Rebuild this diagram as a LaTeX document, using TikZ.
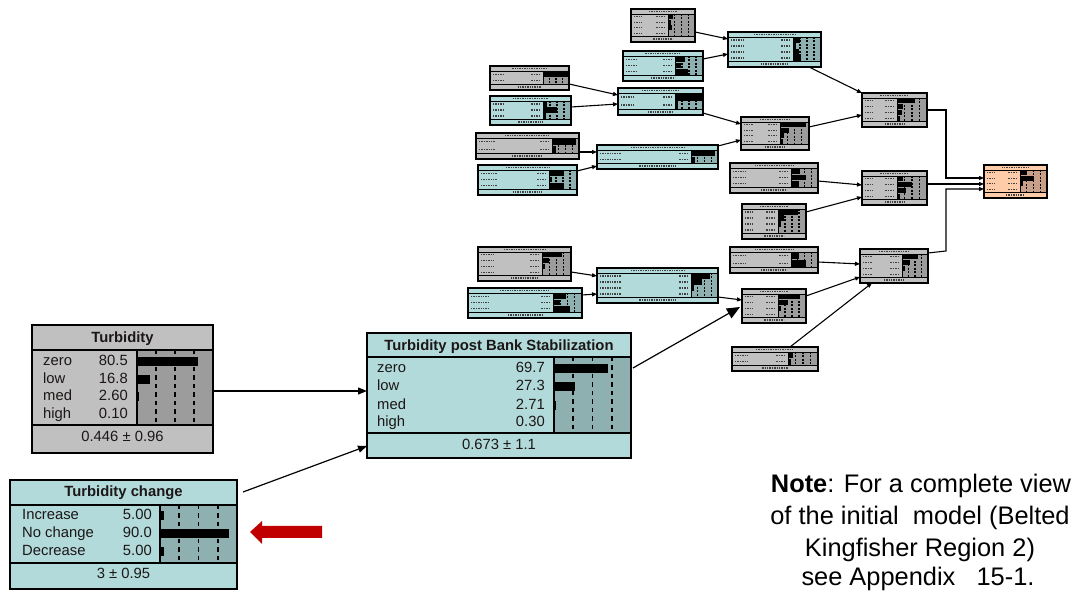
\documentclass[tikz,border=0pt]{standalone}
\usepackage{fontspec}
\setmainfont{Liberation Sans}
\usetikzlibrary{arrows.meta}

% node colour schemes: body fill and belief-bar panel
\definecolor{grfill}{RGB}{192,192,192}
\definecolor{grpanel}{RGB}{156,156,156}
\definecolor{cyfill}{RGB}{178,218,218}
\definecolor{cypanel}{RGB}{142,176,176}
\definecolor{safill}{RGB}{255,204,170}
\definecolor{sapanel}{RGB}{200,160,138}
\definecolor{alertred}{RGB}{192,0,0}
\definecolor{inktext}{RGB}{28,22,22}

\newcommand{\bnfont}{\fontsize{14.8}{17}\selectfont}
\newcommand{\notefont}{\fontsize{25.4}{30}\selectfont}

\tikzset{
  bnnode/.style={rectangle, inner sep=0pt, outer sep=0pt, draw=black, line width=1.5pt},
  bnborder/.style={draw=black, line width=1.5pt},
  bnsmallborder/.style={draw=black, line width=1.3pt},
  bnsep/.style={line width=1.3pt},
  bnsmallsep/.style={line width=0.9pt},
  bntick/.style={line width=1.7pt, dash pattern=on 4.5pt off 4pt},
  bnminitick/.style={line width=1.1pt, dash pattern=on 2pt off 1.5pt},
  bnpseudo/.style={line width=1.2pt, dash pattern=on 1.4pt off 1pt, black!75},
  bnlink/.style={line width=1.1pt, -{Triangle[length=5pt,width=4pt]}},
  bnbiglink/.style={line width=1.2pt, -{Triangle[length=9pt,width=7pt]}},
  bntitle/.style={anchor=base, inner sep=0pt, font=\bnfont\bfseries, text=inktext},
  bnlab/.style={anchor=base west, inner sep=0pt, font=\bnfont, text=inktext},
  bnnum/.style={anchor=base east, inner sep=0pt, font=\bnfont, text=inktext},
  bnfoot/.style={anchor=base, inner sep=0pt, font=\bnfont, text=inktext},
  bnnote/.style={anchor=base, inner sep=0pt, font=\notefont, text=black},
}

% miniature network node: name, x1, y1, x2, y2, scheme, panel x, rows, bar fractions
\newcommand{\minibn}[9]{%
  \pgfmathsetmacro{\mbT}{#3+5}%
  \pgfmathsetmacro{\mbB}{#5-6}%
  \pgfmathsetmacro{\mbH}{(\mbB-\mbT)/#8}%
  \pgfmathsetmacro{\mbW}{#4-#7}%
  \node[bnnode, fill=#6fill, minimum width={(#4-#2)*1pt}, minimum height={(#5-#3)*1pt}] (#1) at ({(#2+#4)/2},{(#3+#5)/2}) {};
  \fill[#6panel] (#7,\mbT) rectangle (#4,\mbB);
  \foreach \v [count=\i] in {#9} {
    \fill[black] (#7,{\mbT+(\i-1)*\mbH+0.4}) rectangle ({#7+\v*\mbW},{\mbT+\i*\mbH-0.4});
  }
  \foreach \f in {0.25,0.5,0.75} \draw[bnminitick] ({#7+\f*\mbW},\mbT) -- ({#7+\f*\mbW},\mbB);
  \foreach \i in {1,...,#8} {
    \draw[bnpseudo] ({#2+3},{\mbT+(\i-0.5)*\mbH}) -- ++({0.22*(#7-#2)},0);
    \draw[bnpseudo] ({#7-3},{\mbT+(\i-0.5)*\mbH}) -- ++(-9,0);
  }
  \draw[bnpseudo] ({(#2+#4)/2-0.22*(#4-#2)},{#3+2.6}) -- ++({0.44*(#4-#2)},0);
  \draw[bnpseudo] ({(#2+#4)/2-0.15*(#4-#2)},{#5-3}) -- ++({0.3*(#4-#2)},0);
  \draw[bnsmallsep] (#2,\mbT) -- (#4,\mbT) (#2,\mbB) -- (#4,\mbB) (#7,\mbT) -- (#7,\mbB);
  \draw[bnsmallborder] (#1.north west) rectangle (#1.south east);
}

% full-size node frame: name, x1, y1, x2, y2, scheme, panel x, title bottom, footer top
\newcommand{\bigframe}[9]{%
  \node[bnnode, fill=#6fill, minimum width={(#4-#2)*1pt}, minimum height={(#5-#3)*1pt}] (#1) at ({(#2+#4)/2},{(#3+#5)/2}) {};
  \fill[#6panel] (#7,#8) rectangle (#4,#9);
  \draw[bnsep] (#2,#8) -- (#4,#8) (#2,#9) -- (#4,#9) (#7,#8) -- (#7,#9);
  \foreach \f in {0.25,0.5,0.75} \draw[bntick] ({#7+\f*(#4-#7)},#8) -- ({#7+\f*(#4-#7)},#9);
}

\begin{document}
\begin{tikzpicture}[x=1pt, y=-1pt]
\fill[white] (0,0) rectangle (1080,593);
\useasboundingbox (0,0) rectangle (1080,593);

% ---- upper network ----
\minibn{A1}{631}{9}{695}{42}{gr}{668}{4}{0.2,0.1,0.15,0.05}
\minibn{A2}{623}{51}{703}{81}{cy}{675}{3}{0.35,0.2,0.45}
\minibn{G}{728}{32}{821}{67}{cy}{793}{4}{0.25,0.1,0.2,0.3}
\minibn{B1}{490}{66}{569}{90}{gr}{543}{2}{1.0,0.05}
\minibn{B2}{490}{96}{571}{125}{cy}{543}{3}{0.15,0.5,0.1}
\minibn{C}{618}{88}{703}{115}{cy}{675}{2}{0.95,0.1}
\minibn{D1}{476}{133}{579}{159}{gr}{552}{2}{0.9,0.15}
\minibn{D2}{478}{165}{577}{195}{cy}{549}{3}{0.55,0.1,0.55}
\minibn{E}{597}{145}{718}{169}{cy}{691}{2}{0.9,0.15}
\minibn{F}{741}{117}{809}{150}{gr}{780}{4}{0.9,0.3,0.15,0.1}
\minibn{H1}{862}{93}{927}{127}{gr}{897}{4}{0.6,0.2,0.15,0.1}
\minibn{I1}{730}{163}{818}{193}{gr}{791}{3}{0.35,0.55,0.3}
\minibn{H2}{862}{171}{927}{205}{gr}{897}{4}{0.2,0.5,0.3,0.1}
\minibn{I2}{742}{204}{806}{239}{gr}{778}{4}{0.7,0.2,0.1,0.05}
\minibn{J}{730}{247}{818}{273}{gr}{791}{2}{0.3,0.55}
\minibn{H3}{860}{249}{928}{283}{gr}{902}{4}{0.6,0.3,0.1,0.05}
\minibn{K}{742}{289}{806}{323}{gr}{778}{4}{0.8,0.35,0.1,0.05}
\minibn{L}{732}{347}{818}{371}{gr}{788}{2}{0.15,0.1}
\minibn{O}{984}{165}{1047}{198}{sa}{1020}{4}{0.25,0.5,0.1,0.05}
\minibn{M1}{478}{247}{571}{281}{gr}{542}{4}{0.7,0.25,0.1,0.05}
\minibn{M2}{468}{288}{582}{318}{cy}{553}{3}{0.45,0.25,0.6}
\minibn{N}{597}{268}{718}{303}{cy}{691}{4}{0.7,0.4,0.1,0.05}

% ---- Turbidity ----
\bigframe{T}{32}{325}{213}{453}{gr}{137}{350}{425}
\fill[black] (137,357.5) rectangle ({137+0.805*76},366.5);
\fill[black] (137,375.5) rectangle ({137+0.168*76},384.5);
\fill[black] (137,392.5) rectangle ({137+0.026*76},401.5);
\node[bntitle] (T-title) at (122.5,343) {Turbidity};
\node[bnlab] (T-s1) at (43,366) {zero};
\node[bnlab] (T-s2) at (43,384) {low};
\node[bnlab] (T-s3) at (43,401) {med};
\node[bnlab] (T-s4) at (43,419) {high};
\node[bnnum] (T-v1) at (128,366) {80.5};
\node[bnnum] (T-v2) at (128,384) {16.8};
\node[bnnum] (T-v3) at (128,401) {2.60};
\node[bnnum] (T-v4) at (128,419) {0.10};
\node[bnfoot] (T-mean) at (122.5,442) {0.446 ± 0.96};
\draw[bnborder] (T.north west) rectangle (T.south east);

% ---- Turbidity change ----
\bigframe{TC}{10}{480}{237}{589}{cy}{160}{505}{563}
\fill[black] (160,511.5) rectangle ({160+0.05*77},520.5);
\fill[black] (160,529.5) rectangle ({160+0.90*77},538.5);
\fill[black] (160,547.5) rectangle ({160+0.05*77},556.5);
\node[bntitle] (TC-title) at (123.5,497) {Turbidity change};
\node[bnlab] (TC-s1) at (22,520) {Increase};
\node[bnlab] (TC-s2) at (22,538) {No change};
\node[bnlab] (TC-s3) at (22,556) {Decrease};
\node[bnnum] (TC-v1) at (152,520) {5.00};
\node[bnnum] (TC-v2) at (152,538) {90.0};
\node[bnnum] (TC-v3) at (152,556) {5.00};
\node[bnfoot] (TC-mean) at (123.5,579) {3 ± 0.95};
\draw[bnborder] (TC.north west) rectangle (TC.south east);

% ---- Turbidity post Bank Stabilization ----
\bigframe{P}{367}{333}{631}{458}{cy}{554}{357}{433}
\fill[black] (554,364.5) rectangle ({554+0.697*77},373.5);
\fill[black] (554,382.5) rectangle ({554+0.273*77},391.5);
\fill[black] (554,401.5) rectangle ({554+0.0271*77},410.5);
\node[bntitle] (P-title) at (499,351) {Turbidity post Bank Stabilization};
\node[bnlab] (P-s1) at (377,373) {zero};
\node[bnlab] (P-s2) at (377,391) {low};
\node[bnlab] (P-s3) at (377,410) {med};
\node[bnlab] (P-s4) at (377,427) {high};
\node[bnnum] (P-v1) at (545,373) {69.7};
\node[bnnum] (P-v2) at (545,391) {27.3};
\node[bnnum] (P-v3) at (545,410) {2.71};
\node[bnnum] (P-v4) at (545,427) {0.30};
\node[bnfoot] (P-mean) at (499,450) {0.673 ± 1.1};
\draw[bnborder] (P.north west) rectangle (P.south east);

% ---- links of the upper network ----
\draw[bnlink] ([yshift=-6.5pt]A1.east) -- ([yshift=10.5pt]G.west);
\draw[bnlink] ([yshift=7pt]A2.east) -- ([yshift=-4.5pt]G.west);
\draw[bnlink] ([yshift=-6pt]B1.east) -- ([yshift=6.5pt]C.west);
\draw[bnlink] ([yshift=3.5pt]B2.east) -- ([yshift=-2.5pt]C.west);
\draw[bnlink] ([yshift=-11.5pt]C.east) -- ([yshift=9.5pt]F.west);
\draw[bnlink] ([yshift=-6pt]D1.east) -- ([yshift=5pt]E.west);
\draw[bnlink] ([yshift=9pt]D2.east) -- ([yshift=-9pt]E.west);
\draw[bnlink] ([yshift=11pt]E.east) -- ([yshift=-6.5pt]F.west);
\draw[bnlink] ([xshift=34.5pt]G.south) -- (H1.north west);
\draw[bnlink] ([yshift=6.5pt]F.east) -- ([yshift=-5pt]H1.west);
\draw[bnlink] ([yshift=-3pt]I1.east) -- ([yshift=3pt]H2.west);
\draw[bnlink] ([yshift=9.5pt]I2.east) -- ([yshift=-9pt]H2.west);
\draw[bnlink] ([yshift=-2pt]J.east) -- ([yshift=2pt]H3.west);
\draw[bnlink] ([yshift=10pt]K.east) -- ([yshift=-11pt]H3.west);
\draw[bnlink] ([xshift=15pt]L.north) -- ([xshift=-22pt]H3.south);
\draw[bnlink] ([yshift=-11.5pt]N.east) -- ([yshift=6pt]K.west);
\draw[bnlink] ([yshift=-8pt]M1.east) -- ([yshift=9.5pt]N.west);
\draw[bnlink] ([yshift=8pt]M2.east) -- ([yshift=-8.5pt]N.west);
\draw[bnlink] (H1.east) -- ++(19,0) |- ([yshift=3.5pt]O.west);
\draw[bnlink] ([yshift=4pt]H2.east) -- ([yshift=-2.5pt]O.west);
\draw[bnlink] ([yshift=13pt]H3.east) -- ++(18,-2) |- ([yshift=-7.5pt]O.west);

% ---- links of the turbidity nodes ----
\draw[bnbiglink] ([yshift=-2pt]T.east) -- ([yshift=4.5pt]P.west);
\draw[bnbiglink] ([xshift=6pt,yshift=42.5pt]TC.east) -- ([yshift=-50.5pt]P.west);
\draw[line width=1.2pt, -{Triangle[length=13pt,width=11pt]}] ([xshift=2pt,yshift=27.5pt]P.east) -- ([xshift=-2pt,yshift=-1pt]K.west);

% ---- red pointer ----
\fill[alertred] (250,532) -- (262,521) -- (262,526) -- (322,526) -- (322,538) -- (262,538) -- (262,544) -- cycle;

% ---- note ----
\node[bnnote] (note1) at (921,493) {\textbf{Note}: For a complete view};
\node[bnnote] (note2) at (920,525) {of the initial\ \ model (Belted};
\node[bnnote] (note3) at (920,557) {Kingfisher Region 2)};
\node[bnnote] (note4) at (918,586) {see Appendix\ \ \ 15-1.};
\end{tikzpicture}
\end{document}
